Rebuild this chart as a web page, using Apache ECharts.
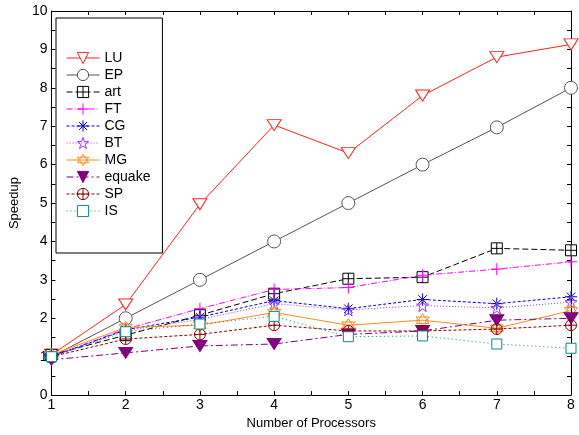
<!DOCTYPE html>
<html>
<head>
<meta charset="utf-8">
<script src="https://cdn.jsdelivr.net/npm/echarts@6/dist/echarts.min.js"></script>
<style>
  html, body { margin: 0; padding: 0; background: #fff; }
  #chart { width: 579px; height: 435px; }
</style>
</head>
<body>
<div id="chart"></div>
<script>
// processors on x axis
const processors = [1, 2, 3, 4, 5, 6, 7, 8];

// speedup per benchmark
const LU     = [1.05, 2.36, 4.97, 7.03, 6.30, 7.80, 8.80, 9.13];
const EP     = [1.00, 2.00, 3.00, 4.00, 5.00, 6.00, 6.97, 8.00];
const art    = [1.05, 1.56, 2.08, 2.64, 3.03, 3.07, 3.82, 3.77];
const FT     = [1.00, 1.72, 2.25, 2.75, 2.80, 3.12, 3.28, 3.47];
const CG     = [1.00, 1.70, 2.03, 2.46, 2.25, 2.49, 2.38, 2.56];
const BT     = [1.00, 1.68, 1.97, 2.38, 2.22, 2.33, 2.27, 2.42];
const MG     = [1.05, 1.76, 1.82, 2.15, 1.82, 1.95, 1.74, 2.20];
const equake = [0.92, 1.10, 1.28, 1.33, 1.58, 1.67, 1.95, 2.00];
const SP     = [1.00, 1.46, 1.58, 1.82, 1.67, 1.67, 1.72, 1.82];
const IS     = [1.00, 1.65, 1.85, 2.05, 1.52, 1.54, 1.33, 1.22];

const yTicks = [0, 10, 1];

const pts = arr => arr.map((v, i) => [processors[i], v]);

// marker shapes
const sym = {
  boxPlus: "path://M0,0H10V10H0ZM5,0V10M0,5H10",
  plus: "path://M5,0V10M0,5H10",
  aster: "path://M5,0V10M0,5H10M1.5,1.5L8.5,8.5M8.5,1.5L1.5,8.5",
  star: "path://M5,0L6.18,3.38L9.76,3.45L6.9,5.62L7.94,9.05L5,7L2.06,9.05L3.1,5.62L0.24,3.45L3.82,3.38Z",
  hexa: "path://M5,0L10,8.66L0,8.66ZM5,11.55L0,2.89L10,2.89Z",
  circPlus: "path://M10,5A5,5,0,1,1,0,5A5,5,0,1,1,10,5ZM5,0V10M0,5H10"
};

function line(name, data, color, type, symbol, size, opts) {
  opts = opts || {};
  return {
    name: name,
    type: "line",
    data: pts(data),
    symbol: symbol,
    symbolSize: size,
    symbolRotate: opts.rotate || 0,
    showAllSymbol: true,
    lineStyle: { color: color, width: 1, type: type },
    itemStyle: {
      color: opts.fill || "#fff",
      borderColor: color,
      borderWidth: 1
    },
    emphasis: { disabled: true }
  };
}

const series = [
  line("LU", LU, "#ff2020", "solid", "triangle", [14, 11], { rotate: 180 }),
  line("EP", EP, "#555555", "solid", "circle", 13),
  line("art", art, "#000000", [6, 3], sym.boxPlus, 11),
  line("FT", FT, "#ff00ff", [6, 2, 1, 2], sym.plus, 12, { fill: "transparent" }),
  line("CG", CG, "#0000cc", [3, 2], sym.aster, 12, { fill: "transparent" }),
  line("BT", BT, "#9933ff", [1, 2], sym.star, 12, { fill: "transparent" }),
  line("MG", MG, "#ff8c1a", "solid", sym.hexa, 13, { fill: "transparent" }),
  line("equake", equake, "#800080", [7, 3, 2, 3], "triangle", [14, 11], { rotate: 180, fill: "#800080" }),
  line("SP", SP, "#8b0000", [3, 2], sym.circPlus, 11, { fill: "transparent" }),
  line("IS", IS, "#008b8b", [1, 3], "rect", 10)
];

const font = "Liberation Sans";

const chart = echarts.init(document.getElementById("chart"), null, { renderer: "canvas" });

const baseX = {
  type: "value",
  min: processors[0],
  max: processors[processors.length - 1],
  interval: 1,
  axisLine: { show: true, onZero: false, lineStyle: { color: "#000", width: 1 } },
  axisTick: { show: true, inside: true, length: 4, lineStyle: { color: "#000" } },
  minorTick: { show: true, splitNumber: 2, length: 4, lineStyle: { color: "#000" } },
  splitLine: { show: false },
  minorSplitLine: { show: false }
};
const baseY = {
  type: "value",
  min: yTicks[0],
  max: yTicks[1],
  interval: yTicks[2],
  axisLine: { show: true, onZero: false, lineStyle: { color: "#000", width: 1 } },
  axisTick: { show: true, inside: true, length: 4, lineStyle: { color: "#000" } },
  minorTick: { show: true, splitNumber: 2, length: 4, lineStyle: { color: "#000" } },
  splitLine: { show: false },
  minorSplitLine: { show: false }
};

chart.setOption({
  animation: false,
  backgroundColor: "#fff",
  textStyle: { fontFamily: font },
  grid: { left: 41, right: 8, top: 11, bottom: 34, containLabel: false },
  legend: {
    orient: "vertical",
    left: 56,
    top: 18,
    padding: [33, 12, 35, 10],
    borderColor: "#000",
    borderWidth: 1,
    itemWidth: 33,
    itemHeight: 14,
    itemGap: 3,
    selectedMode: false,
    itemStyle: { borderWidth: 1 },
    lineStyle: { width: 1 },
    textStyle: { fontFamily: font, fontSize: 14, color: "#000" },
    data: series.map(s => s.name)
  },
  xAxis: [
    Object.assign({}, baseX, {
      position: "bottom",
      name: "Number of Processors",
      nameLocation: "middle",
      nameGap: 17,
      nameTextStyle: { fontFamily: font, fontSize: 13, color: "#000" },
      axisLabel: { fontFamily: font, fontSize: 14, color: "#000", margin: 3 }
    }),
    Object.assign({}, baseX, { position: "top", axisLabel: { show: false } })
  ],
  yAxis: [
    Object.assign({}, baseY, {
      position: "left",
      name: "Speedup",
      nameLocation: "middle",
      nameGap: 24,
      nameTextStyle: { fontFamily: font, fontSize: 13, color: "#000" },
      axisLabel: { fontFamily: font, fontSize: 14, color: "#000", margin: 4 }
    }),
    Object.assign({}, baseY, { position: "right", axisLabel: { show: false } })
  ],
  series: series
});
</script>
</body>
</html>
